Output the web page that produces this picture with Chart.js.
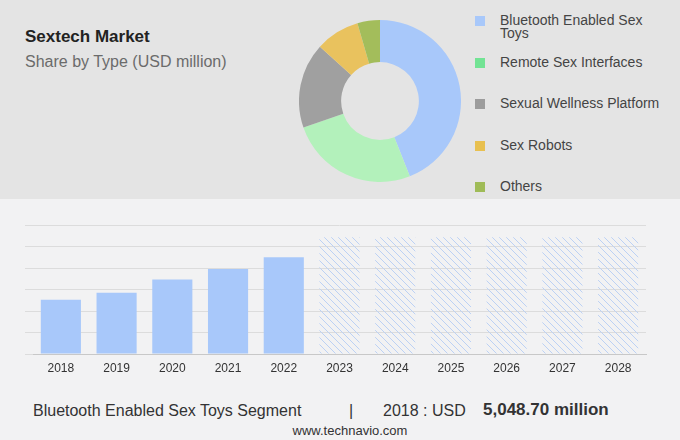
<!DOCTYPE html>
<html>
<head>
<meta charset="utf-8">
<script src="https://cdn.jsdelivr.net/npm/chart.js@4.4.0/dist/chart.umd.min.js"></script>
<style>
  body { margin: 0; width: 680px; height: 440px; background: #f2f2f3; position: relative; overflow: hidden; font-family: "Liberation Sans", Arial, sans-serif; }
  #top { position: absolute; left: 0; top: 0; width: 680px; height: 199px; background: #e4e4e4; }
  .title { position: absolute; left: 25px; top: 28px; font-size: 17px; line-height: 17px; font-weight: bold; color: #222; }
  .subtitle { position: absolute; left: 25px; top: 54px; font-size: 16px; line-height: 16px; color: #6b6b6b; }
  #donutBox { position: absolute; left: 299px; top: 20px; width: 162px; height: 162px; }
  #legend .sq { position: absolute; left: 475px; width: 10px; height: 10px; }
  #legend .txt { position: absolute; left: 500px; width: 165px; font-size: 14px; line-height: 13px; color: #444; }
  #barBox { position: absolute; left: 0; top: 200px; width: 680px; height: 190px; }
  .foot { position: absolute; font-size: 16px; line-height: 16px; color: #333; white-space: nowrap; }
  .site { position: absolute; left: 0; width: 700px; text-align: center; top: 424px; font-size: 13px; line-height: 13px; color: #333; }
</style>
</head>
<body>
<div id="top"></div>
<div class="title">Sextech Market</div>
<div class="subtitle">Share by Type (USD million)</div>
<div id="donutBox"><canvas id="donut"></canvas></div>
<div id="legend"></div>
<div id="barBox"><canvas id="bars"></canvas></div>
<div class="foot" style="left:33px;top:403px;">Bluetooth Enabled Sex Toys Segment</div>
<div class="foot" style="left:349px;top:403px;">|</div>
<div class="foot" style="left:383px;top:403px;">2018 : USD</div>
<div class="foot" style="left:483px;top:402px;font-size:17px;font-weight:bold;">5,048.70 million</div>
<div class="site">www.technavio.com</div>

<script>
// share by type (percent, read from the doughnut)
const shareLabels = ['Bluetooth Enabled Sex Toys', 'Remote Sex Interfaces', 'Sexual Wellness Platform', 'Sex Robots', 'Others'];
const shareValues = [44, 25.7, 17, 8.8, 4.5];
const sliceColors = ['#a8c8fa', '#b3f1bb', '#a0a0a0', '#e9c25e', '#a3bd5b'];
const legendColors = ['#a8c8fa', '#72e394', '#9c9c9c', '#e8c050', '#9fbb57'];

// segment size by year (USD million)
const years = ['2018', '2019', '2020', '2021', '2022', '2023', '2024', '2025', '2026', '2027', '2028'];
const actualValues = [5048.7, 5690, 6940, 7900, 9000, null, null, null, null, null, null];
const forecastValues = [null, null, null, null, null, 10850, 10850, 10850, 10850, 10850, 10850];
const yMax = 12000;
const yStep = 2000;

// legend, built from the labels
const legend = document.getElementById('legend');
shareLabels.forEach((lab, i) => {
  const c = 21 + i * 41.6;
  const sq = document.createElement('div');
  sq.className = 'sq';
  sq.style.top = (c - 5) + 'px';
  sq.style.background = legendColors[i];
  const t = document.createElement('div');
  t.className = 'txt';
  t.style.top = (c - 7) + 'px';
  t.textContent = lab;
  legend.appendChild(sq);
  legend.appendChild(t);
});

new Chart(document.getElementById('donut'), {
  type: 'doughnut',
  data: {
    labels: shareLabels,
    datasets: [{ data: shareValues, backgroundColor: sliceColors, borderWidth: 0 }]
  },
  options: {
    responsive: true,
    maintainAspectRatio: false,
    animation: false,
    cutout: '48%',
    layout: { padding: 0 },
    plugins: { legend: { display: false }, tooltip: { enabled: false } }
  }
});

// diagonal hatch for the forecast years
const pc = document.createElement('canvas');
pc.width = 7; pc.height = 7;
const px = pc.getContext('2d');
px.strokeStyle = '#bcd1f4';
px.lineWidth = 1;
px.beginPath();
px.moveTo(-1, -1); px.lineTo(8, 8);
px.moveTo(-1, 6); px.lineTo(1, 8);
px.moveTo(6, -1); px.lineTo(8, 1);
px.stroke();
const hatch = px.createPattern(pc, 'repeat');

new Chart(document.getElementById('bars'), {
  type: 'bar',
  data: {
    labels: years,
    datasets: [
      { data: actualValues, backgroundColor: '#a8c8fa', barPercentage: 0.72, categoryPercentage: 1 },
      { data: forecastValues, backgroundColor: hatch, barPercentage: 0.72, categoryPercentage: 1 }
    ]
  },
  options: {
    responsive: true,
    maintainAspectRatio: false,
    animation: false,
    layout: { padding: { left: 25, right: 34, top: 25, bottom: 7.6 } },
    plugins: { legend: { display: false }, tooltip: { enabled: false } },
    scales: {
      x: {
        stacked: true,
        grid: { display: false, drawTicks: false },
        border: { display: true, color: '#c8c8c8', width: 1 },
        ticks: { color: '#333', font: { family: 'Liberation Sans', size: 12 }, padding: 7 }
      },
      y: {
        stacked: true,
        min: 0,
        max: yMax,
        ticks: { display: false, stepSize: yStep },
        grid: { color: '#dcdcdc', drawTicks: true, tickLength: 8 },
        border: { display: false }
      }
    }
  }
});
</script>
</body>
</html>
